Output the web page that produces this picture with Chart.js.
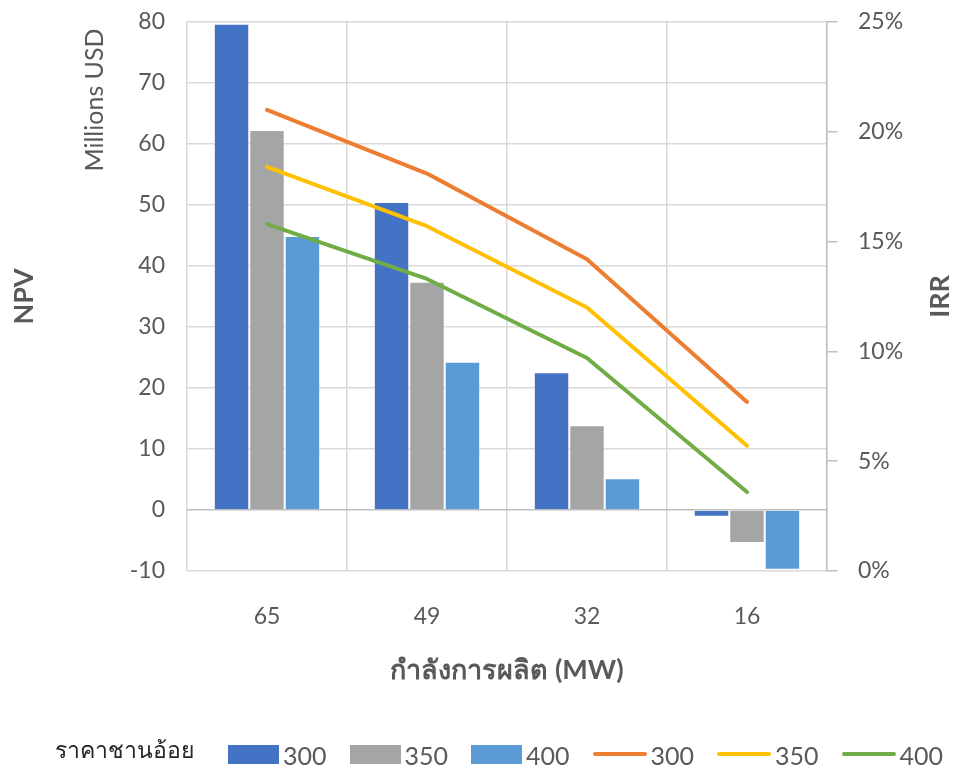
<!DOCTYPE html>
<html>
<head>
<meta charset="utf-8">
<script src="https://cdn.jsdelivr.net/npm/chart.js@4.4.1/dist/chart.umd.min.js"></script>
<style>
  html, body { margin: 0; padding: 0; background: #fff; }
  #wrap { position: relative; width: 956px; height: 766px; overflow: hidden; }
  #legend {
    position: absolute; left: 55px; top: 734px; width: 900px;
    display: flex; flex-wrap: nowrap; align-items: flex-end; white-space: nowrap;
    font-family: Lato, "Noto Sans", sans-serif; color: #595959;
  }
  #legend .ttl { font-size: 23px; color: #262626; margin-right: 34px; line-height: 30px; white-space: nowrap; }
  #legend .item { display: flex; align-items: flex-end; margin-right: 23px; }
  #legend .sw { margin-right: 4px; flex: none; }
  #legend .txt { font-size: 25px; line-height: 25px; margin-bottom: -4px; }
</style>
</head>
<body>
<div id="wrap">
  <canvas id="chart" width="956" height="766"></canvas>
  <div id="legend"></div>
</div>
<script>
// ====== DATA ======
const capacity = ["65", "49", "32", "16"];           // กำลังการผลิต (MW)
const prices = ["300", "350", "400"];                 // ราคาชานอ้อย
const npv300 = [79.7, 50.5, 22.6, -1.1];              // Millions USD
const npv350 = [62.3, 37.4, 13.9, -5.4];
const npv400 = [44.9, 24.3, 5.2, -9.8];
const irr300 = [21.0, 18.1, 14.2, 7.7];               // %
const irr350 = [18.4, 15.7, 12.0, 5.7];
const irr400 = [15.8, 13.3, 9.7, 3.6];
const npvTicks = { min: -10, max: 80, step: 10 };
const irrTicks = { min: 0, max: 25, step: 5 };

// ====== STYLE ======
const barColors = ["#4472C4", "#A5A5A5", "#5B9BD5"];
const lineColors = ["#ED7D31", "#FFC000", "#70AD47"];
const FONT = "Lato, 'Noto Sans', sans-serif";
const TXT = "#595959";

const barSets = [npv300, npv350, npv400].map((d, i) => ({
  type: "bar",
  label: prices[i],
  data: d,
  yAxisID: "y",
  backgroundColor: barColors[i],
  borderColor: "rgba(255,255,255,0.6)",
  borderWidth: 1,
  barPercentage: 1,
  categoryPercentage: 0.665,
  order: 2
}));
const lineSets = [irr300, irr350, irr400].map((d, i) => ({
  type: "line",
  label: prices[i],
  data: d,
  yAxisID: "y1",
  borderColor: lineColors[i],
  borderWidth: 4,
  borderCapStyle: "round",
  borderJoinStyle: "round",
  pointRadius: 0,
  tension: 0,
  fill: false,
  order: 1
}));

// rotated side labels: unit label for NPV, title for IRR
const sideText = {
  id: "sideText",
  afterDraw(chart) {
    const { ctx, chartArea } = chart;
    ctx.save();
    ctx.fillStyle = TXT;
    ctx.textAlign = "center";
    ctx.textBaseline = "middle";

    ctx.save();
    ctx.translate(95, chartArea.top + 78);
    ctx.rotate(-Math.PI / 2);
    ctx.font = "25px " + FONT;
    ctx.fillText("Millions USD", 0, 0);
    ctx.restore();

    ctx.save();
    ctx.translate(chart.width - 16, (chartArea.top + chartArea.bottom) / 2);
    ctx.rotate(-Math.PI / 2);
    ctx.font = "bold 27px " + FONT;
    ctx.fillText("IRR", 0, 0);
    ctx.restore();

    ctx.restore();
  }
};

new Chart(document.getElementById("chart"), {
  data: { labels: capacity, datasets: [...lineSets, ...barSets] },
  options: {
    responsive: false,
    animation: false,
    layout: { padding: { top: 22, left: 0, right: 0, bottom: 0 } },
    plugins: { legend: { display: false }, tooltip: { enabled: false } },
    scales: {
      x: {
        offset: true,
        grid: { offset: true, color: "#d9d9d9", lineWidth: 1.5, drawTicks: false },
        border: { display: false },
        ticks: { color: TXT, font: { family: FONT, size: 23 }, padding: 32 },
        title: {
          display: true, text: "กำลังการผลิต (MW)", color: TXT,
          font: { family: FONT, size: 27, weight: "bold" },
          padding: { top: 0, bottom: 80 }
        },
        afterFit(s) { s.height = 195; }
      },
      y: {
        position: "left",
        min: npvTicks.min, max: npvTicks.max,
        ticks: { stepSize: npvTicks.step, color: TXT, font: { family: FONT, size: 23 }, padding: 6 },
        grid: {
          drawTicks: true, tickLength: 16, tickColor: "rgba(0,0,0,0)", lineWidth: 1.5,
          color: c => (c.tick && c.tick.value === 0 ? "#bfbfbf" : "#d9d9d9")
        },
        border: { display: false },
        title: {
          display: true, text: "NPV", color: TXT,
          font: { family: FONT, size: 27, weight: "bold" },
          padding: { top: 8, bottom: 0 }
        },
        afterFit(s) { s.width = 187; }
      },
      y1: {
        position: "right",
        min: irrTicks.min, max: irrTicks.max,
        ticks: {
          stepSize: irrTicks.step, color: TXT, font: { family: FONT, size: 23 }, padding: 2,
          callback: v => v + "%"
        },
        grid: {
          drawOnChartArea: false, drawTicks: true, tickLength: 29,
          tickBorderDash: [10, 40], color: "#bfbfbf", lineWidth: 1.5
        },
        border: { display: true, color: "#bfbfbf", width: 1.5 },
        afterFit(s) { s.width = 129; }
      }
    }
  },
  plugins: [sideText]
});

// ====== LEGEND ======
const legend = document.getElementById("legend");
const ttl = document.createElement("span");
ttl.className = "ttl";
ttl.textContent = "ราคาชานอ้อย";
legend.appendChild(ttl);
function addItem(label, color, isLine) {
  const it = document.createElement("span");
  it.className = "item";
  const sw = document.createElement("span");
  sw.className = "sw";
  sw.style.background = color;
  sw.style.width = isLine ? "54px" : "51px";
  sw.style.height = isLine ? "4px" : "19px";
  sw.style.borderRadius = isLine ? "2px" : "0";
  sw.style.marginBottom = isLine ? "8px" : "0";
  const tx = document.createElement("span");
  tx.className = "txt";
  tx.textContent = label;
  it.appendChild(sw);
  it.appendChild(tx);
  legend.appendChild(it);
}
prices.forEach((p, i) => addItem(p, barColors[i], false));
prices.forEach((p, i) => addItem(p, lineColors[i], true));
</script>
</body>
</html>
